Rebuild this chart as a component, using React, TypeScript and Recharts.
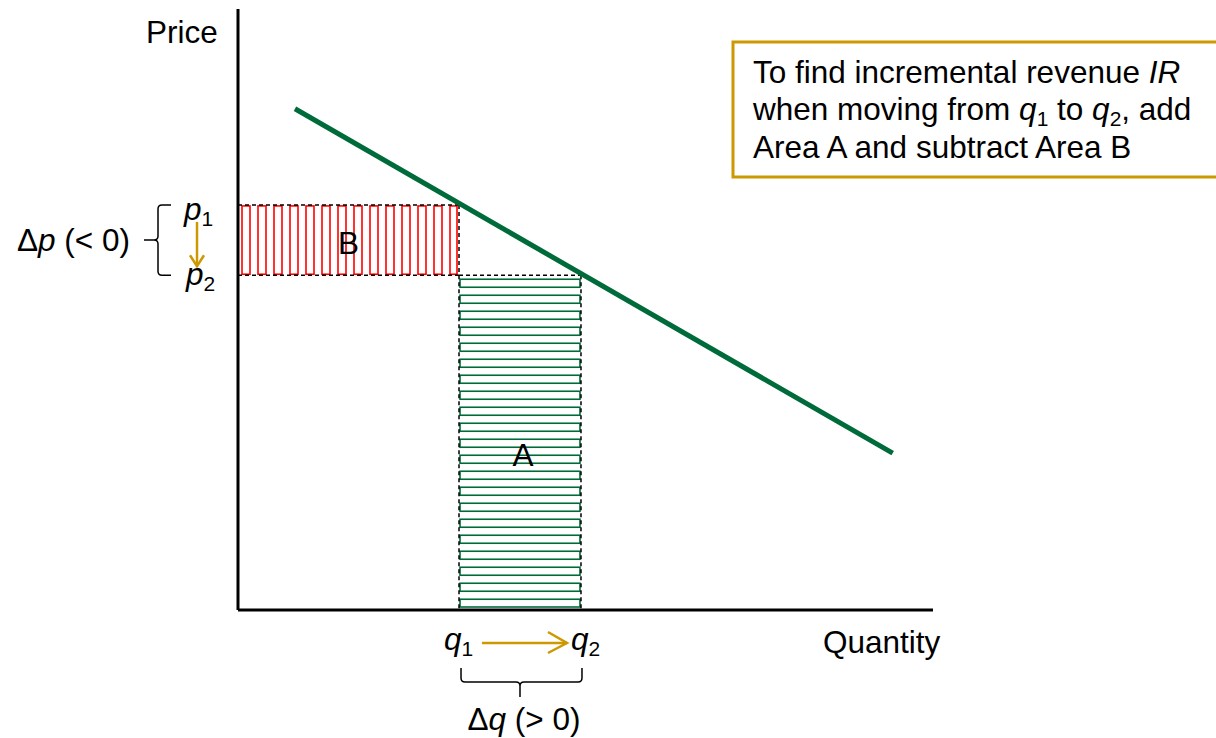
import { ComposedChart, Line, ReferenceArea, ReferenceLine, XAxis, YAxis } from "recharts";

// demand curve end points (quantity, price) on a 0-100 scale
const demandQty = [8.2, 94.2];
const demandPrice = [83.4, 26.1];

// the two points being compared
const quantities = [31.8, 49.35]; // q1, q2
const prices = [67.4, 55.7]; // p1, p2

const demand = demandQty.map((q, i) => ({ q, p: demandPrice[i] }));

const FONT = "'Liberation Sans', Arial, sans-serif";
const FS = 31.5;
const SUB = 21;
const GOLD = "#CC9900";
const GREEN = "#006B3A";

// italic letter with a numeric subscript, followed by optional trailing text
function Var({ v, n, after }: { v: string; n: string; after?: string }) {
  return (
    <>
      <tspan fontStyle="italic">{v}</tspan>
      <tspan fontSize={SUB} dy={6}>{n}</tspan>
      {after ? <tspan dy={-6}>{after}</tspan> : null}
    </>
  );
}

function AreaB(props: any) {
  const { x, y, width, height } = props;
  const lines = [];
  for (let i = 0; x + 4 + i * 16 < x + width - 2; i++) {
    const lx = x + 4 + i * 16;
    const w = Math.min(8, x + width - 2 - lx);
    lines.push(<rect key={i} x={lx} y={y + 1} width={w} height={height - 2} fill="none" stroke="#FF0000" strokeWidth={1.6} />);
  }
  const bx = x - 80;
  const top = y;
  const bot = y + height;
  const mid = (top + bot) / 2;
  return (
    <g>
      {lines}
      <g stroke="#000" strokeWidth={1.5} strokeDasharray="4 3" fill="none">
        <line x1={x} y1={top} x2={x + width} y2={top} />
        <line x1={x} y1={bot} x2={x + width} y2={bot} />
        <line x1={x + width} y1={top} x2={x + width} y2={bot} />
      </g>
      <text x={x + width / 2} y={mid + 14} textAnchor="middle" fontFamily={FONT} fontSize={FS} fill="#000">B</text>
      <path
        d={`M ${bx + 13} ${top} H ${bx + 4} Q ${bx} ${top} ${bx} ${top + 4} V ${mid - 4} Q ${bx} ${mid} ${bx - 4} ${mid} H ${bx - 14} M ${bx - 4} ${mid} Q ${bx} ${mid} ${bx} ${mid + 4} V ${bot - 4} Q ${bx} ${bot} ${bx + 4} ${bot} H ${bx + 13}`}
        fill="none"
        stroke="#000"
        strokeWidth={1.5}
      />
      <text x={17} y={mid + 11} fontFamily={FONT} fontSize={FS} fill="#000">
        Δ<tspan fontStyle="italic">p</tspan> (&lt; 0)
      </text>
      <text x={x - 54} y={top + 15} fontFamily={FONT} fontSize={FS} fill="#000">
        <Var v="p" n="1" />
      </text>
      <text x={x - 52} y={bot + 10} fontFamily={FONT} fontSize={FS} fill="#000">
        <Var v="p" n="2" />
      </text>
      <g stroke={GOLD} strokeWidth={2.5} fill="none">
        <line x1={x - 41} y1={top + 17} x2={x - 41} y2={bot - 9} />
        <polyline points={`${x - 48},${bot - 20} ${x - 41},${bot - 9} ${x - 34},${bot - 20}`} />
      </g>
    </g>
  );
}

function AreaA(props: any) {
  const { x, y, width, height } = props;
  const lines = [];
  for (let i = 0; y + 4 + i * 16 < y + height - 3; i++) {
    const ly = y + 4 + i * 16;
    const h = Math.min(8, y + height - 3 - ly);
    lines.push(<rect key={i} x={x + 1} y={ly} width={width - 2} height={h} fill="none" stroke={GREEN} strokeWidth={1.6} />);
  }
  const bot = y + height;
  const cx = x + width / 2;
  const xr = x + width;
  return (
    <g>
      {lines}
      <g stroke="#000" strokeWidth={1.5} strokeDasharray="4 3" fill="none">
        <line x1={x} y1={y} x2={xr} y2={y} />
        <line x1={x} y1={y} x2={x} y2={bot} />
        <line x1={xr} y1={y} x2={xr} y2={bot} />
      </g>
      <text x={cx + 3} y={y + height * 0.57} textAnchor="middle" fontFamily={FONT} fontSize={FS} fill="#000">A</text>
      <text x={x - 15} y={bot + 40} fontFamily={FONT} fontSize={FS} fill="#000">
        <Var v="q" n="1" />
      </text>
      <text x={xr - 10} y={bot + 40} fontFamily={FONT} fontSize={FS} fill="#000">
        <Var v="q" n="2" />
      </text>
      <g stroke={GOLD} strokeWidth={2.5} fill="none">
        <line x1={x + 23} y1={bot + 33} x2={xr - 14} y2={bot + 33} />
        <polyline points={`${xr - 33},${bot + 22} ${xr - 14},${bot + 33} ${xr - 33},${bot + 43}`} />
      </g>
      <path
        d={`M ${x + 2} ${bot + 58} V ${bot + 68} Q ${x + 2} ${bot + 72} ${x + 6} ${bot + 72} H ${cx - 4} Q ${cx} ${bot + 72} ${cx} ${bot + 76} V ${bot + 87} M ${cx} ${bot + 76} Q ${cx} ${bot + 72} ${cx + 4} ${bot + 72} H ${xr - 3} Q ${xr + 1} ${bot + 72} ${xr + 1} ${bot + 68} V ${bot + 58}`}
        fill="none"
        stroke="#000"
        strokeWidth={1.5}
      />
      <text x={cx + 4} y={bot + 120} textAnchor="middle" fontFamily={FONT} fontSize={FS} fill="#000">
        Δ<tspan fontStyle="italic">q</tspan> (&gt; 0)
      </text>
    </g>
  );
}

export default function App() {
  const [q1, q2] = quantities;
  const [p1, p2] = prices;
  return (
    <div style={{ position: "absolute", left: 0, top: 0, width: 1216, height: 738, background: "#fff" }}>
      <ComposedChart
        width={1216}
        height={738}
        data={demand}
        margin={{ top: 9, right: 283, bottom: 128, left: 238 }}
      >
        <XAxis type="number" dataKey="q" domain={[0, 100]} hide />
        <YAxis type="number" domain={[0, 100]} hide />
        <ReferenceArea x1={0} x2={q1} y1={p2} y2={p1} shape={AreaB} ifOverflow="visible" />
        <ReferenceArea x1={q1} x2={q2} y1={0} y2={p2} shape={AreaA} ifOverflow="visible" />
        <ReferenceLine segment={[{ x: 0, y: 0 }, { x: 100, y: 0 }]} stroke="#000" strokeWidth={3} ifOverflow="visible" />
        <ReferenceLine segment={[{ x: 0, y: 0 }, { x: 0, y: 100 }]} stroke="#000" strokeWidth={3} ifOverflow="visible" />
        <Line dataKey="p" stroke={GREEN} strokeWidth={5} dot={false} activeDot={false} isAnimationActive={false} />
      </ComposedChart>
      <svg width={1216} height={738} style={{ position: "absolute", left: 0, top: 0, pointerEvents: "none" }}>
        <text x={146} y={43} fontFamily={FONT} fontSize={FS} fill="#000">Price</text>
        <text x={823} y={653} fontFamily={FONT} fontSize={FS} fill="#000">Quantity</text>
        <rect x={733} y={42} width={520} height={135} fill="#fff" stroke={GOLD} strokeWidth={3} />
        <text x={753} y={83} fontFamily={FONT} fontSize={FS} fill="#000">
          To find incremental revenue <tspan fontStyle="italic">IR</tspan>
        </text>
        <text x={753} y={120} fontFamily={FONT} fontSize={FS} fill="#000">
          {"when moving from "}
          <Var v="q" n="1" after=" to " />
          <Var v="q" n="2" after=", add" />
        </text>
        <text x={753} y={158} fontFamily={FONT} fontSize={FS} fill="#000">Area A and subtract Area B</text>
      </svg>
    </div>
  );
}
